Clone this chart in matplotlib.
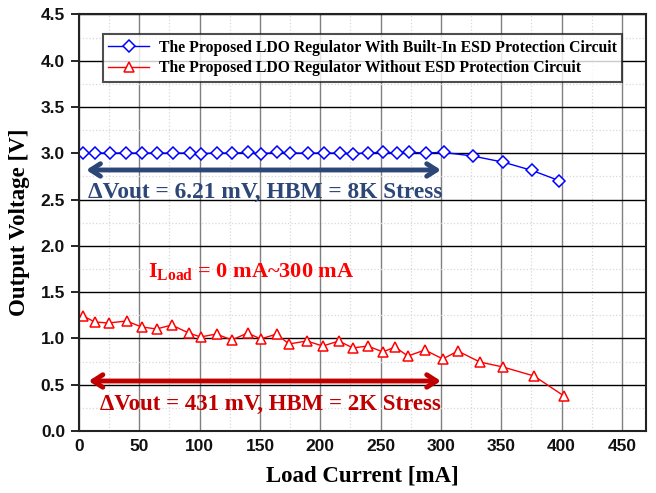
import matplotlib
matplotlib.use("Agg")
import matplotlib.pyplot as plt
from matplotlib.ticker import MultipleLocator

plt.rcParams['mathtext.fontset'] = 'custom'
plt.rcParams['mathtext.bf'] = 'Liberation Serif:bold'
plt.rcParams['mathtext.rm'] = 'Liberation Serif:bold'

# Data
x_esd = [3.7, 12.9, 25.3, 38.6, 51.9, 64.3, 77.6, 91.7, 100.8, 114, 126.6, 139.8, 150.6,
         163.9, 174.7, 189.6, 202.9, 216.2, 227, 239.4, 251.9, 263.5, 273.4, 287.5, 302.5,
         326.6, 351.5, 375.5, 398]
y_esd = [3.005, 3.005, 3.0, 3.005, 3.0, 3.005, 3.0, 3.005, 2.995, 3.005, 3.0, 3.01, 2.995,
         3.01, 3.005, 3.0, 3.005, 3.0, 2.995, 3.005, 3.01, 3.005, 3.01, 3.005, 3.01,
         2.97, 2.905, 2.815, 2.705]
x_noesd = [3.7, 12.9, 24.5, 39.4, 51.9, 64.3, 76.8, 90.9, 100.8, 114, 126.6, 139.8, 150.6,
           163.9, 173.9, 188.8, 202.1, 215.4, 227, 239.4, 251.9, 261.9, 272.6, 286.7, 301.6,
           314, 332.3, 351.5, 377.2, 402]
y_noesd = [1.242, 1.178, 1.167, 1.188, 1.124, 1.102, 1.145, 1.059, 1.016, 1.048, 0.983, 1.059,
           0.994, 1.048, 0.940, 0.972, 0.918, 0.972, 0.897, 0.918, 0.854, 0.907, 0.810, 0.875,
           0.778, 0.864, 0.745, 0.691, 0.594, 0.378]
labels = ["The Proposed LDO Regulator With Built-In ESD Protection Circuit",
          "The Proposed LDO Regulator Without ESD Protection Circuit"]
xticks = [0, 50, 100, 150, 200, 250, 300, 350, 400, 450]
yticks = [0.0, 0.5, 1.0, 1.5, 2.0, 2.5, 3.0, 3.5, 4.0, 4.5]

fig = plt.figure(figsize=(6.56, 4.93), dpi=100)
ax = fig.add_axes([0.1204, 0.1258, 0.8644, 0.8448])

ax.set_xlim(0, 470)
ax.set_ylim(0, 4.5)
ax.set_xticks(xticks)
ax.set_yticks(yticks)
ax.set_yticklabels([f"{v:.1f}" for v in yticks])
ax.xaxis.set_minor_locator(MultipleLocator(25))
ax.yaxis.set_minor_locator(MultipleLocator(0.25))

ax.grid(which='minor', color='#d8d8d8', linestyle=':', linewidth=0.9)
ax.grid(which='major', axis='x', color='#808080', linestyle='-', linewidth=1.0)
ax.grid(which='major', axis='y', color='#000000', linestyle='-', linewidth=1.0)
ax.set_axisbelow(True)

for s in ax.spines.values():
    s.set_linewidth(1.5)
    s.set_color('#222222')

ax.tick_params(axis='x', which='both', length=0, pad=6)
ax.tick_params(axis='y', which='major', length=6, width=1.2, direction='out', pad=4)
ax.tick_params(axis='y', which='minor', length=0)
for lab in ax.get_xticklabels() + ax.get_yticklabels():
    lab.set_fontfamily('Liberation Sans')
    lab.set_fontweight('bold')
    lab.set_fontsize(12.5)
    lab.set_color('#111111')

ax.plot(x_esd, y_esd, color='#0000ff', linewidth=1.0, marker='D', markersize=6,
        markerfacecolor='white', markeredgecolor='#0000ff', markeredgewidth=1.1, label=labels[0])
ax.plot(x_noesd, y_noesd, color='#ff0000', linewidth=1.0, marker='^', markersize=7.5,
        markerfacecolor='white', markeredgecolor='#ff0000', markeredgewidth=1.1, label=labels[1])

leg = ax.legend(loc='upper left', bbox_to_anchor=(0.042, 0.953), frameon=True, fancybox=False,
                prop={'family': 'Liberation Serif', 'weight': 'bold', 'size': 11.3},
                handlelength=2.6, borderpad=0.35, labelspacing=0.3, handletextpad=0.6,
                borderaxespad=0)
leg.get_frame().set_edgecolor('#222222')
leg.get_frame().set_linewidth(1.5)

navy = '#2c4677'
dred = '#c00000'
ax.annotate('', xy=(6, 2.82), xytext=(300, 2.82),
            arrowprops=dict(arrowstyle='<->, head_length=0.7, head_width=0.45', lw=3.5, color=navy,
                            shrinkA=0, shrinkB=0))
ax.text(154, 2.575, 'ΔVout = 6.21 mV, HBM = 8K Stress', color=navy, fontsize=16.8,
        fontfamily='Liberation Serif', fontweight='bold', ha='center', va='center')
ax.annotate('', xy=(8, 0.54), xytext=(300, 0.54),
            arrowprops=dict(arrowstyle='<->, head_length=0.7, head_width=0.45', lw=3.5, color=dred,
                            shrinkA=0, shrinkB=0))
ax.text(159, 0.29, 'ΔVout = 431 mV, HBM = 2K Stress', color=dred, fontsize=16.5,
        fontfamily='Liberation Serif', fontweight='bold', ha='center', va='center')
ax.text(57, 1.72, r'$\mathbf{I}_{\mathbf{Load}}$ = 0 mA~300 mA', color='#ff0000', fontsize=16,
        fontfamily='Liberation Serif', fontweight='bold', ha='left', va='center')

ax.set_xlabel('Load Current [mA]', fontfamily='Liberation Serif', fontweight='bold',
              fontsize=16.5, labelpad=8)
ax.set_ylabel('Output Voltage [V]', fontfamily='Liberation Serif', fontweight='bold',
              fontsize=16.5, labelpad=8)

fig.savefig('out.png', dpi=100)
